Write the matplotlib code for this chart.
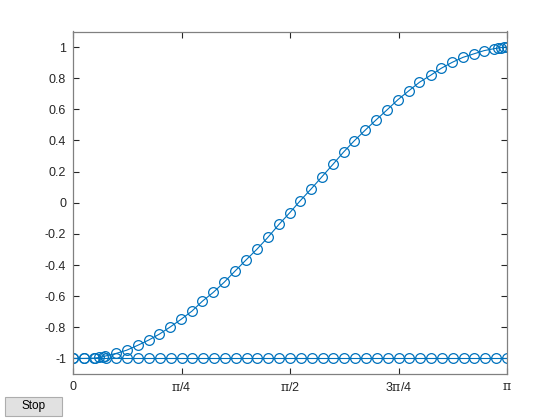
import matplotlib
matplotlib.use("Agg")
import matplotlib.pyplot as plt
import numpy as np
from matplotlib.patches import Rectangle

# Baseline series (y = -1 at evenly spaced samples)
base_x = [0.0, 0.0785, 0.1571, 0.2356, 0.3142, 0.3927, 0.4712, 0.5498, 0.6283, 0.7069,
          0.7854, 0.8639, 0.9425, 1.0210, 1.0996, 1.1781, 1.2566, 1.3352, 1.4137, 1.4923,
          1.5708, 1.6493, 1.7279, 1.8064, 1.8850, 1.9635, 2.0420, 2.1206, 2.1991, 2.2777,
          2.3562, 2.4347, 2.5133, 2.5918, 2.6704, 2.7489, 2.8274, 2.9060, 2.9845, 3.0631,
          3.1416]
base_y = [-1.0] * len(base_x)

# Curve series
curve_x = [0.0, 0.08, 0.154, 0.19, 0.215, 0.232, 0.311, 0.389, 0.468, 0.548, 0.625,
           0.702, 0.782, 0.861, 0.937, 1.015, 1.095, 1.175, 1.252, 1.332,
           1.411, 1.491, 1.569, 1.645, 1.723, 1.802, 1.882, 1.959, 2.036,
           2.116, 2.195, 2.275, 2.352, 2.432, 2.508, 2.589, 2.666, 2.745,
           2.823, 2.900, 2.975, 3.05, 3.08, 3.10, 3.12, 3.1416]
curve_y = [-1.0, -1.0, -0.998, -0.994, -0.99, -0.985, -0.968, -0.947, -0.916, -0.882, -0.844,
           -0.799, -0.749, -0.696, -0.632, -0.576, -0.510, -0.437, -0.368, -0.298,
           -0.222, -0.139, -0.064, 0.013, 0.088, 0.167, 0.247, 0.326, 0.398,
           0.467, 0.533, 0.598, 0.662, 0.720, 0.774, 0.819, 0.864, 0.902,
           0.934, 0.956, 0.977, 0.990, 0.994, 0.997, 0.999, 1.0]

xticks = [0, np.pi / 4, np.pi / 2, 3 * np.pi / 4, np.pi]
xticklabels = ['0', r'$\pi$/4', r'$\pi$/2', r'3$\pi$/4', r'$\pi$']
yticks = [-1, -0.8, -0.6, -0.4, -0.2, 0, 0.2, 0.4, 0.6, 0.8, 1]
yticklabels = ['-1', '-0.8', '-0.6', '-0.4', '-0.2', '0', '0.2', '0.4', '0.6', '0.8', '1']

plt.rcParams['font.family'] = ['Liberation Sans', 'DejaVu Sans']
plt.rcParams['mathtext.fontset'] = 'custom'
plt.rcParams['mathtext.rm'] = 'Liberation Sans'
plt.rcParams['mathtext.it'] = 'DejaVu Serif'
plt.rcParams['mathtext.bf'] = 'Liberation Sans:bold'

fig = plt.figure(figsize=(5.6, 4.2), dpi=100, facecolor='white')
ax = fig.add_axes([73 / 560, (420 - 374) / 420, 434 / 560, 342.5 / 420])

col = '#0072BD'
ax.plot(curve_x, curve_y, '-o', color=col, lw=0.8, ms=7, mfc='none', mew=0.9)
ax.plot(base_x, base_y, '-o', color=col, lw=0.8, ms=7, mfc='none', mew=0.9)

ax.set_xlim(0, np.pi)
ax.set_ylim(-1.1, 1.1)
ax.set_xticks(xticks)
ax.set_xticklabels(xticklabels)
ax.set_yticks(yticks)
ax.set_yticklabels(yticklabels)

axc = '#262626'
for s in ax.spines.values():
    s.set_color('#808080')
    s.set_linewidth(0.9)
ax.tick_params(direction='in', top=True, right=True, length=4, width=0.8,
               color=axc, labelcolor=axc, labelsize=9)
ax.tick_params(axis='x', pad=5)
ax.tick_params(axis='y', pad=5)

# Stop button
btn = Rectangle((5 / 560, (420 - 416) / 420), 57 / 560, 19 / 420, transform=fig.transFigure,
                facecolor='#E1E1E1', edgecolor='#ADADAD', lw=0.8)
fig.patches.append(btn)
fig.text(33.5 / 560, (420 - 406.5) / 420, 'Stop', ha='center', va='center', fontsize=8.5, color='black')

fig.savefig('out.png', dpi=100, facecolor='white')
